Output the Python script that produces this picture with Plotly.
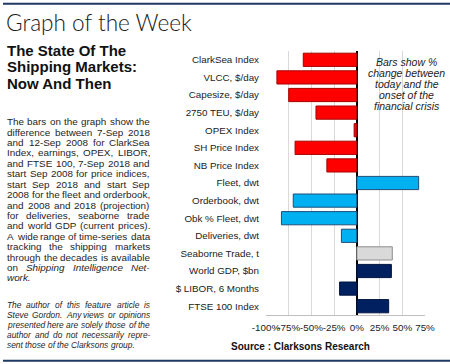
import plotly.graph_objects as go

# ---------------- data ----------------
categories = ["ClarkSea Index", "VLCC, $/day", "Capesize, $/day", "2750 TEU, $/day",
              "OPEX Index", "SH Price Index", "NB Price Index", "Fleet, dwt",
              "Orderbook, dwt", "Obk % Fleet, dwt", "Deliveries, dwt",
              "Seaborne Trade, t", "World GDP, $bn", "$ LIBOR, 6 Months", "FTSE 100 Index"]
pct_change = [-59, -88, -75, -45, -3, -68, -33, 68, -70, -83, -17, 39, 38, -19, 35]
groups = ["market"] * 7 + ["supply"] * 4 + ["trade"] + ["macro"] * 3
tick_values = [-100, -75, -50, -25, 0, 25, 50, 75]
tick_labels = ["-100%", "-75%", "-50%", "-25%", "0%", "25%", "50%", "75%"]

fill_colors = {"market": "#FF0000", "supply": "#00B0F0", "trade": "#D9D9D9", "macro": "#002060"}
line_colors = {"market": "#A50000", "supply": "#1F4E79", "trade": "#8C8C8C", "macro": "#001540"}

title_text = "Graph of the Week"
subtitle_lines = ["The State Of The", "Shipping Markets:", "Now And Then"]
body_lines = [
    "The bars on the graph show the",
    "difference between 7-Sep 2018",
    "and 12-Sep 2008 for ClarkSea",
    "Index, earnings, OPEX, LIBOR,",
    "and FTSE 100, 7-Sep 2018 and",
    "start Sep 2008 for price indices,",
    "start Sep 2018 and start Sep",
    "2008 for the fleet and orderbook,",
    "and 2008 and 2018 (projection)",
    "for deliveries, seaborne trade",
    "and world GDP (current prices).",
    "A wide range of time-series data",
    "tracking the shipping markets",
    "through the decades is available",
    "on |Shipping |Intelligence |Net-",
    "|work.",
]
note_lines = [
    "The author of this feature article is",
    "Steve Gordon. Any views or opinions",
    "presented here are solely those of the",
    "author and do not necessarily repre-",
    "sent those of the Clarksons group.",
]
box_lines = ["Bars show %", "change between", "today and the", "onset of the", "financial crisis"]
source_text = "Source : Clarksons Research"

# ---------------- layout helpers ----------------
W, H = 450, 364
X0, X1, Y0, Y1 = 266, 425, 50.5, 315.5
FONT = "Liberation Sans, Arial, Helvetica, sans-serif"


def px(x):
    return (x - X0) / (X1 - X0)


def py(y):
    return (Y1 - y) / (Y1 - Y0)


CW = {' ': 278, '!': 278, '(': 333, ')': 333, ',': 278, '-': 333, '.': 278, '/': 278,
      ':': 278, '$': 556, '%': 889,
      'A': 667, 'B': 667, 'C': 722, 'D': 722, 'E': 667, 'F': 611, 'G': 778, 'H': 722,
      'I': 278, 'J': 500, 'K': 667, 'L': 556, 'M': 833, 'N': 722, 'O': 778, 'P': 667,
      'Q': 778, 'R': 722, 'S': 667, 'T': 611, 'U': 722, 'V': 667, 'W': 944, 'X': 667,
      'Y': 667, 'Z': 611,
      'a': 556, 'b': 556, 'c': 500, 'd': 556, 'e': 556, 'f': 278, 'g': 556, 'h': 556,
      'i': 222, 'j': 222, 'k': 500, 'l': 222, 'm': 833, 'n': 556, 'o': 556, 'p': 556,
      'q': 556, 'r': 333, 's': 500, 't': 278, 'u': 556, 'v': 500, 'w': 722, 'x': 500,
      'y': 500, 'z': 500}


def tw(s, size):
    return sum(CW.get(c, 556) for c in s) / 1000.0 * size


annotations = []


def add_text(x, y, text, size, color="#1a1a1a", anchor="left", family=FONT, weight=None, style=None):
    font = dict(family=family, size=size, color=color)
    if weight is not None:
        font["weight"] = weight
    if style is not None:
        font["style"] = style
    annotations.append(dict(x=px(x), y=py(y), xref="paper", yref="paper", text=text,
                            showarrow=False, xanchor=anchor, yanchor="middle",
                            borderpad=0, borderwidth=0, font=font))


def justified(lines, y_start, dy, size, left, right, italic_all=False, last_natural=True):
    for i, line in enumerate(lines):
        y = y_start + i * dy
        words = line.split(" ")
        plain = [w.replace("|", "") for w in words]
        widths = [tw(w, size) for w in plain]
        natural = i == len(lines) - 1 and last_natural
        if len(words) > 1 and not natural:
            gap = (right - left - sum(widths)) / (len(words) - 1)
        else:
            gap = tw(" ", size)
        x = left
        for w, p, wd in zip(words, plain, widths):
            it = italic_all or w.startswith("|")
            add_text(x, y, p, size, style="italic" if it else None, color="#1e1e1e")
            x += wd + gap


# title + subtitle
add_text(6, 21.5, title_text, 22.6, color="#1a1a1a", family="Lato, Liberation Sans, sans-serif", weight=300)
for i, s in enumerate(subtitle_lines):
    add_text(7, 49.5 + i * 16.6, s, 15, color="#111111", weight="bold")

justified(body_lines, 121.5, 10.45, 9.9, 7, 150)
justified(note_lines, 305, 10.2, 8.4, 7, 150, italic_all=True)

for i, s in enumerate(box_lines):
    add_text(406.5, 61.7 + i * 11, s, 10.5, color="#222222", anchor="center", style="italic")

add_text(300, 347, source_text, 10, color="#111111", anchor="center", weight="bold")

# ---------------- figure ----------------
fig = go.Figure()
fig.add_trace(go.Bar(
    x=pct_change, y=categories, orientation="h",
    marker=dict(color=[fill_colors[g] for g in groups],
                line=dict(color=[line_colors[g] for g in groups], width=1)),
    hoverinfo="skip",
))

fig.update_layout(
    width=W, height=H,
    margin=dict(l=X0, r=W - X1, t=Y0, b=H - Y1, pad=0),
    paper_bgcolor="white", plot_bgcolor="white",
    showlegend=False, bargap=0.25,
    font=dict(family=FONT, size=10, color="#222222"),
    annotations=annotations,
    shapes=[
        dict(type="line", xref="paper", yref="paper", x0=px(3), x1=px(450), y0=py(3), y1=py(3),
             line=dict(color="#1F3864", width=2)),
        dict(type="line", xref="paper", yref="paper", x0=px(3), x1=px(450), y0=py(361.5), y1=py(361.5),
             line=dict(color="#1F3864", width=2)),
    ],
)
fig.update_xaxes(range=[-100, 75], tickvals=tick_values, ticktext=tick_labels, tickangle=0,
                 showgrid=True, gridcolor="#D9D9D9", gridwidth=1,
                 zeroline=True, zerolinecolor="#000000", zerolinewidth=1.5,
                 showline=True, linecolor="#BFBFBF", linewidth=1,
                 ticks="", tickfont=dict(size=9.8, color="#222222"), ticklabelstandoff=3,
                 fixedrange=True)
fig.update_yaxes(autorange="reversed", ticks="", showgrid=False, showline=False,
                 tickfont=dict(size=9.8, color="#222222"), ticklabelstandoff=6,
                 fixedrange=True)

fig.write_html("out.html", config={"displayModeBar": False},
               post_script="document.body.style.margin='0';document.body.style.overflow='hidden';")
